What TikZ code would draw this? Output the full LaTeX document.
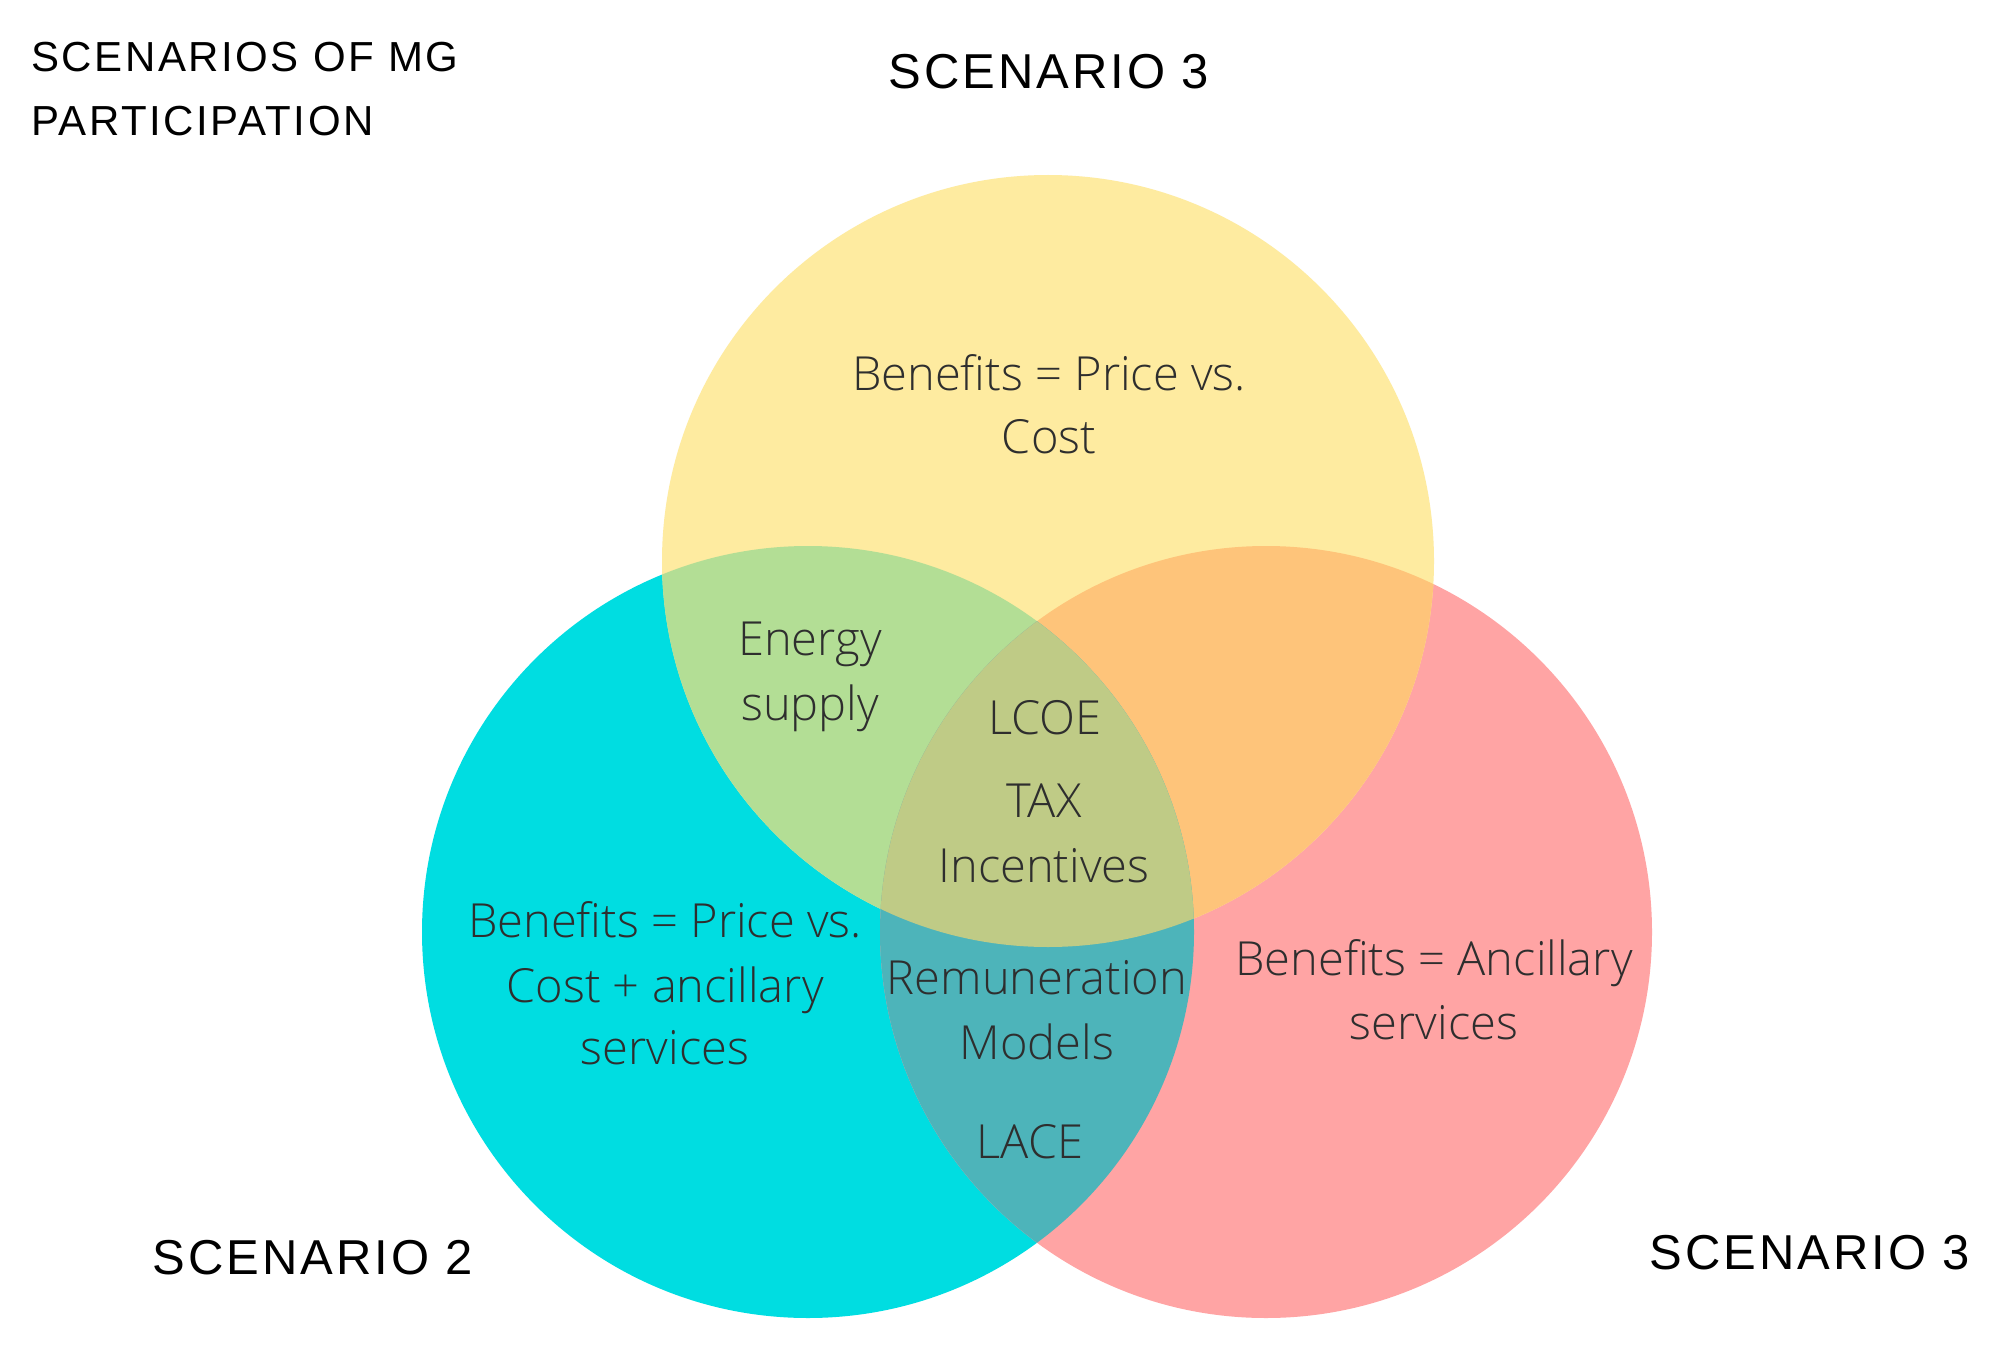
\documentclass[tikz,border=0pt]{standalone}
\usepackage{fontspec}
\newfontfamily\bodyfont{Open Sans Light}
\newfontfamily\titlefont[LetterSpace=6]{Liberation Sans}
\newfontfamily\smalltitlefont[LetterSpace=6]{Liberation Sans}
\definecolor{yellowC}{HTML}{FEEBA0}
\definecolor{cyanC}{HTML}{00DDE1}
\definecolor{pinkC}{HTML}{FFA4A4}
\definecolor{greenC}{HTML}{B3DE95}
\definecolor{orangeC}{HTML}{FEC47A}
\definecolor{tealC}{HTML}{4DB4BA}
\definecolor{centerC}{HTML}{BFCB86}
\begin{document}
\begin{tikzpicture}[x=0.5pt,y=-0.5pt,
  body/.style={anchor=base,inner sep=0pt,font=\bodyfont\fontsize{23.5pt}{28pt}\selectfont,text=black!82},
  ttl/.style={anchor=base,inner sep=0pt,font=\titlefont\fontsize{24.5pt}{29pt}\selectfont,text=black},
  smallttl/.style={anchor=base west,inner sep=0pt,font=\smalltitlefont\fontsize{21pt}{25pt}\selectfont,text=black}]
\useasboundingbox (0,0) rectangle (1991,1348);
\fill[white] (0,0) rectangle (1991,1348);
\coordinate (Y) at (1048,561);
\coordinate (C) at (808,932);
\coordinate (R) at (1266,932);
\def\rad{386}
% base circles
\fill[cyanC] (C) circle[radius=\rad];
\fill[pinkC] (R) circle[radius=\rad];
\fill[yellowC] (Y) circle[radius=\rad];
% pairwise overlaps
\begin{scope}
  \clip (Y) circle[radius=\rad];
  \fill[greenC] (C) circle[radius=\rad];
  \fill[orangeC] (R) circle[radius=\rad];
\end{scope}
\begin{scope}
  \clip (C) circle[radius=\rad];
  \fill[tealC] (R) circle[radius=\rad];
\end{scope}
% triple overlap
\begin{scope}
  \clip (Y) circle[radius=\rad];
  \clip (C) circle[radius=\rad];
  \fill[centerC] (R) circle[radius=\rad];
\end{scope}
% titles
\node[smallttl] (t1a) at (31,72) {SCENARIOS OF MG};
\node[smallttl] (t1b) at (31,136) {PARTICIPATION};
\node[ttl] (s3top) at (1049,89) {SCENARIO 3};
\node[ttl] (s2) at (313,1274) {SCENARIO 2};
\node[ttl] (s3br) at (1810,1269) {SCENARIO 3};
% yellow region
\node[body] (y1) at (1049,390) {Benefits = Price vs.};
\node[body] (y2) at (1049,453) {Cost};
% green region
\node[body] (g1) at (810,655) {Energy};
\node[body] (g2) at (810,720) {supply};
% center region
\node[body] (c1) at (1045,734) {LCOE};
\node[body] (c2) at (1044,817) {TAX};
\node[body] (c3) at (1044,882) {Incentives};
% cyan region
\node[body] (b1) at (665,937) {Benefits = Price vs.};
\node[body] (b2) at (665,1002) {Cost + ancillary};
\node[body] (b3) at (665,1064) {services};
% teal region
\node[body] (m1) at (1037,994) {Remuneration};
\node[body] (m2) at (1037,1059) {Models};
\node[body] (l1) at (1030,1158) {LACE};
% pink region
\node[body] (r1) at (1434,975) {Benefits = Ancillary};
\node[body] (r2) at (1434,1039) {services};
\end{tikzpicture}
\end{document}
